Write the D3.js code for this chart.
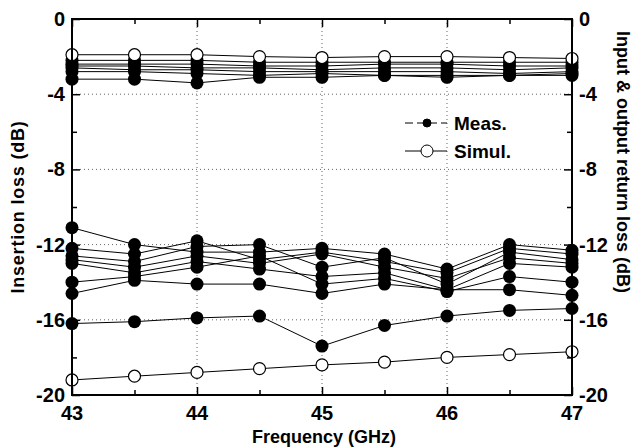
<!DOCTYPE html>
<html>
<head>
<meta charset="utf-8">
<script src="https://cdn.jsdelivr.net/npm/d3@7"></script>
<style>
    body { margin: 0; background: #fff; }
    text { font-family: "Liberation Sans", Arial, sans-serif; font-weight: bold; fill: #000; }
</style>
</head>
<body>
<svg id="chart" width="632" height="448"></svg>
<script>
// frequencies (GHz)
var freqs = [43, 43.5, 44, 44.5, 45, 45.5, 46, 46.5, 47];

// measured insertion loss (dB), one array per device
var measIL1 = [-2.2, -2.2, -2.2, -2.3, -2.3, -2.3, -2.3, -2.3, -2.3];
var measIL2 = [-2.4, -2.4, -2.4, -2.5, -2.5, -2.4, -2.4, -2.5, -2.5];
var measIL3 = [-2.5, -2.5, -2.6, -2.6, -2.7, -2.6, -2.6, -2.7, -2.6];
var measIL4 = [-2.6, -2.7, -2.7, -2.8, -2.8, -2.8, -2.8, -2.9, -2.8];
var measIL5 = [-2.8, -2.8, -2.9, -3.0, -2.9, -3.0, -3.0, -3.0, -2.9];
var measIL6 = [-3.2, -3.2, -3.4, -3.1, -3.1, -3.0, -3.1, -3.0, -3.0];

// simulated insertion loss (dB)
var simIL = [-1.9, -1.9, -1.9, -2.0, -2.05, -2.0, -2.0, -2.05, -2.1];

// measured input & output return loss (dB)
var measRL1 = [-16.2, -16.1, -15.9, -15.8, -17.4, -16.3, -15.8, -15.5, -15.4];
var measRL2 = [-11.1, -12.0, -12.4, -12.4, -12.2, -12.5, -13.3, -12.0, -12.3];
var measRL3 = [-12.2, -12.5, -11.8, -12.8, -12.4, -12.9, -13.5, -12.2, -12.5];
var measRL4 = [-12.6, -12.9, -12.1, -12.0, -13.2, -12.7, -14.1, -12.4, -12.8];
var measRL5 = [-12.8, -13.2, -12.6, -13.0, -12.5, -13.2, -13.8, -12.7, -13.0];
var measRL6 = [-13.0, -13.5, -12.9, -13.3, -13.7, -13.5, -14.4, -13.0, -13.2];
var measRL7 = [-14.0, -13.7, -13.2, -12.6, -14.1, -13.8, -14.5, -13.7, -14.0];
var measRL8 = [-14.6, -13.9, -14.1, -14.1, -14.6, -14.1, -14.4, -14.4, -14.7];

// simulated return loss (dB)
var simRL = [-19.2, -19.0, -18.8, -18.6, -18.4, -18.25, -18.0, -17.85, -17.7];

// axis ticks
var xTicks = [43, 44, 45, 46, 47];
var yTicks = [0, -4, -8, -12, -16, -20];

// legend entries
var legendItems = [
    { label: 'Meas.', filled: true },
    { label: 'Simul.', filled: false }
];

(function (d3) {
    var svg = d3.select('#chart'),
        left = 72, right = 572, top = 19, bottom = 395;

    var x = d3.scaleLinear().domain([43, 47]).range([left, right]),
        y = d3.scaleLinear().domain([-20, 0]).range([bottom, top]);

    var measured = [measIL1, measIL2, measIL3, measIL4, measIL5, measIL6,
                    measRL1, measRL2, measRL3, measRL4, measRL5, measRL6, measRL7, measRL8],
        simulated = [simIL, simRL];

    // dotted grid
    var grid = svg.append('g').attr('stroke', '#666').attr('stroke-width', 1)
        .attr('stroke-dasharray', '1,3');
    grid.selectAll('.vg').data([44, 45, 46]).enter().append('line')
        .attr('x1', function (d) { return x(d); }).attr('x2', function (d) { return x(d); })
        .attr('y1', top).attr('y2', bottom);
    grid.selectAll('.hg').data([-4, -8, -12, -16]).enter().append('line')
        .attr('x1', left).attr('x2', right)
        .attr('y1', function (d) { return y(d); }).attr('y2', function (d) { return y(d); });

    // inward ticks on all four sides (major + minor)
    function styleAxis(g) {
        g.select('.domain').remove();
        g.selectAll('text').remove();
        g.selectAll('line').attr('stroke', '#000').attr('stroke-width', 1.5);
    }
    var xMajor = d3.range(43, 47.01, 1), xMinor = d3.range(43.5, 47, 1),
        yMajor = d3.range(-20, 0.01, 4), yMinor = d3.range(-18, 0, 4);

    svg.append('g').attr('transform', 'translate(0,' + bottom + ')')
        .call(d3.axisTop(x).tickValues(xMajor).tickSize(8)).call(styleAxis);
    svg.append('g').attr('transform', 'translate(0,' + bottom + ')')
        .call(d3.axisTop(x).tickValues(xMinor).tickSize(5)).call(styleAxis);
    svg.append('g').attr('transform', 'translate(0,' + top + ')')
        .call(d3.axisBottom(x).tickValues(xMajor).tickSize(8)).call(styleAxis);
    svg.append('g').attr('transform', 'translate(0,' + top + ')')
        .call(d3.axisBottom(x).tickValues(xMinor).tickSize(5)).call(styleAxis);
    svg.append('g').attr('transform', 'translate(' + left + ',0)')
        .call(d3.axisRight(y).tickValues(yMajor).tickSize(8)).call(styleAxis);
    svg.append('g').attr('transform', 'translate(' + left + ',0)')
        .call(d3.axisRight(y).tickValues(yMinor).tickSize(5)).call(styleAxis);
    svg.append('g').attr('transform', 'translate(' + right + ',0)')
        .call(d3.axisLeft(y).tickValues(yMajor).tickSize(8)).call(styleAxis);
    svg.append('g').attr('transform', 'translate(' + right + ',0)')
        .call(d3.axisLeft(y).tickValues(yMinor).tickSize(5)).call(styleAxis);

    // series lines
    var line = d3.line()
        .x(function (d, i) { return x(freqs[i]); })
        .y(function (d) { return y(d); });

    svg.append('g').selectAll('path').data(measured.concat(simulated)).enter().append('path')
        .attr('d', line)
        .attr('fill', 'none')
        .attr('stroke', '#000')
        .attr('stroke-width', 1);

    // markers
    function markers(series, filled) {
        var g = svg.append('g');
        series.forEach(function (s) {
            g.selectAll(null).data(s).enter().append('circle')
                .attr('cx', function (d, i) { return x(freqs[i]); })
                .attr('cy', function (d) { return y(d); })
                .attr('r', filled ? 6.5 : 6)
                .attr('fill', filled ? '#000' : '#fff')
                .attr('stroke', '#000')
                .attr('stroke-width', filled ? 0 : 1.2);
        });
    }
    markers(measured, true);
    markers(simulated, false);

    // frame
    svg.append('rect')
        .attr('x', left).attr('y', top)
        .attr('width', right - left).attr('height', bottom - top)
        .attr('fill', 'none').attr('stroke', '#000').attr('stroke-width', 2);

    // tick labels
    svg.selectAll('.xl').data(xTicks).enter().append('text')
        .attr('x', function (d) { return x(d); }).attr('y', 420)
        .attr('text-anchor', 'middle').attr('font-size', 20)
        .text(function (d) { return d; });
    svg.selectAll('.yl').data(yTicks).enter().append('text')
        .attr('x', 65).attr('y', function (d) { return y(d) + 7; })
        .attr('text-anchor', 'end').attr('font-size', 20)
        .text(function (d) { return d; });
    svg.selectAll('.yr').data(yTicks).enter().append('text')
        .attr('x', 579).attr('y', function (d) { return y(d) + 7; })
        .attr('text-anchor', 'start').attr('font-size', 20)
        .text(function (d) { return d; });

    // axis titles
    svg.append('text').attr('x', (left + right) / 2 + 2).attr('y', 443)
        .attr('text-anchor', 'middle').attr('font-size', 18)
        .text('Frequency (GHz)');
    svg.append('text')
        .attr('transform', 'translate(24,' + (top + bottom) / 2 + ') rotate(-90)')
        .attr('text-anchor', 'middle').attr('font-size', 18)
        .attr('letter-spacing', 0.8)
        .text('Insertion loss (dB)');
    svg.append('text')
        .attr('transform', 'translate(617,' + ((top + bottom) / 2 - 45) + ') rotate(90)')
        .attr('text-anchor', 'middle').attr('font-size', 18)
        .text('Input & output return loss (dB)');

    // legend
    var lg = svg.append('g').selectAll('g').data(legendItems).enter().append('g')
        .attr('transform', function (d, i) { return 'translate(405,' + (123 + i * 28) + ')'; });
    lg.append('line').attr('x1', 0).attr('x2', 42).attr('y1', 0).attr('y2', 0)
        .attr('stroke', '#000').attr('stroke-width', 1)
        .attr('stroke-dasharray', function (d) { return d.filled ? '8,4' : null; });
    lg.append('circle').attr('cx', 22).attr('cy', 0)
        .attr('r', function (d) { return d.filled ? 4 : 6; })
        .attr('fill', function (d) { return d.filled ? '#000' : '#fff'; })
        .attr('stroke', '#000').attr('stroke-width', 1);
    lg.append('text').attr('x', 49).attr('y', 7).attr('font-size', 19)
        .text(function (d) { return d.label; });
}(window.d3));
</script>
</body>
</html>
